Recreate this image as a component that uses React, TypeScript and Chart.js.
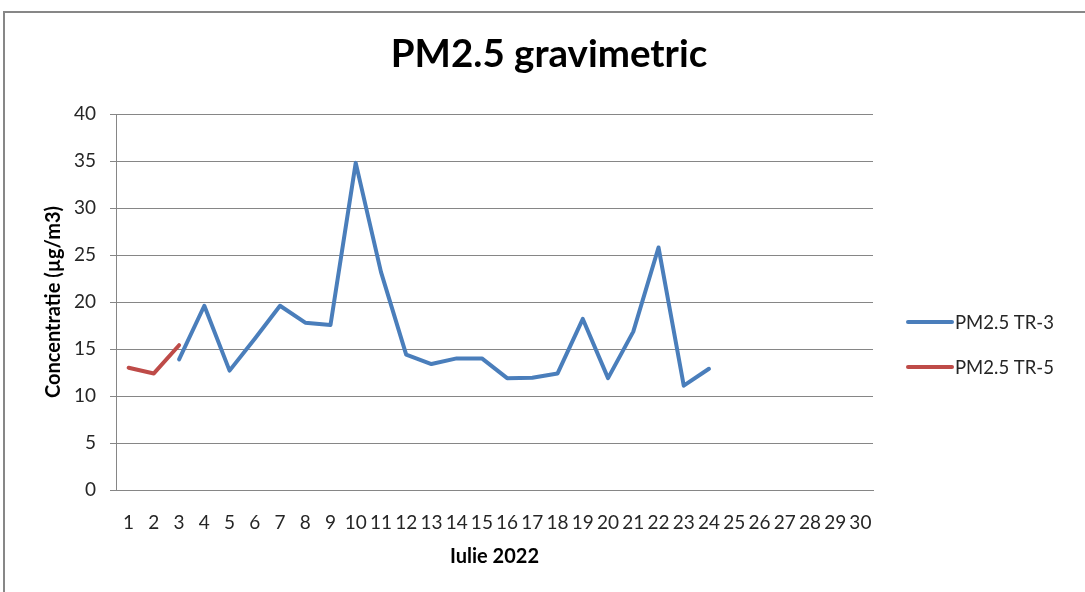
import React, { useEffect, useRef } from "react";
import { Chart, registerables } from "chart.js";

Chart.register(...registerables);

const days = ["1","2","3","4","5","6","7","8","9","10","11","12","13","14","15","16","17","18","19","20","21","22","23","24","25","26","27","28","29","30"];
const tr3 = [null, null, 13.9, 19.6, 12.7, 16.1, 19.6, 17.8, 17.55, 34.8, 23.2, 14.4, 13.4, 14.0, 14.0, 11.9, 11.95, 12.4, 18.2, 11.9, 16.85, 25.8, 11.1, 12.9, null, null, null, null, null, null];
const tr5 = [13.0, 12.4, 15.4, null, null, null, null, null, null, null, null, null, null, null, null, null, null, null, null, null, null, null, null, null, null, null, null, null, null, null];
const seriesNames = ["PM2.5 TR-3", "PM2.5 TR-5"];
const seriesColors = ["#4A7EBB", "#BE4B48"];
const yTicks = [0, 5, 10, 15, 20, 25, 30, 35, 40];
const chartTitle = "PM2.5 gravimetric";

const FONT = "Lato, 'Open Sans', sans-serif";

export default function App() {
  const ref = useRef<HTMLCanvasElement | null>(null);
  useEffect(() => {
    if (!ref.current) return;
    const framePlugin = {
      id: "frame",
      beforeDraw(chart: any) {
        const ctx = chart.ctx;
        ctx.save();
        ctx.fillStyle = "#ffffff";
        ctx.fillRect(0, 0, chart.width, chart.height);
        ctx.strokeStyle = "#878787";
        ctx.lineWidth = 2;
        ctx.strokeRect(4, 12, 1300, 800);
        ctx.restore();
      },
      afterDraw(chart: any) {
        const ctx = chart.ctx;
        ctx.save();
        ctx.fillStyle = "#000000";
        ctx.font = "bold 38.5px " + FONT;
        ctx.textAlign = "center";
        ctx.textBaseline = "alphabetic";
        ctx.fillText(chartTitle, 549, 67);
        const ys = [322, 367];
        seriesNames.forEach((n, i) => {
          ctx.strokeStyle = seriesColors[i];
          ctx.lineWidth = 4;
          ctx.lineCap = "round";
          ctx.beginPath();
          ctx.moveTo(908, ys[i]);
          ctx.lineTo(952, ys[i]);
          ctx.stroke();
          ctx.fillStyle = "#262626";
          ctx.font = "18.5px " + FONT;
          ctx.textBaseline = "middle";
          ctx.textAlign = "left";
          ctx.fillText(n, 955, ys[i] + 1);
        });
        ctx.restore();
      },
    };
    const chart = new Chart(ref.current, {
      type: "line",
      data: {
        labels: days,
        datasets: [
          { label: seriesNames[0], data: tr3, borderColor: seriesColors[0], backgroundColor: seriesColors[0], borderWidth: 4, pointRadius: 0, spanGaps: false, tension: 0, borderJoinStyle: "round", borderCapStyle: "round" },
          { label: seriesNames[1], data: tr5, borderColor: seriesColors[1], backgroundColor: seriesColors[1], borderWidth: 4, pointRadius: 0, spanGaps: false, tension: 0, borderJoinStyle: "round", borderCapStyle: "round" },
        ],
      },
      options: {
        responsive: false,
        animation: false,
        layout: { padding: { left: 8, right: 212, top: 114, bottom: 0 } },
        plugins: {
          legend: { display: false },
          tooltip: { enabled: false },
          title: { display: false },
        },
        scales: {
          x: {
            type: "category",
            offset: true,
            grid: { display: false, drawTicks: false },
            border: { display: true, color: "#868686", width: 1 },
            ticks: { autoSkip: false, maxRotation: 0, minRotation: 0, padding: 21, color: "#262626", font: { family: FONT, size: 19 } },
            title: { display: true, text: "Iulie 2022", color: "#000000", font: { family: FONT, size: 20, weight: "bold" }, padding: { top: 4, bottom: 23 } },
            afterFit(scale: any) { scale.height = 102; },
          },
          y: {
            min: 0,
            max: 40,
            afterBuildTicks(scale: any) { scale.ticks = yTicks.map((v) => ({ value: v })); },
            grid: { color: "#868686", lineWidth: 1, drawTicks: true, tickLength: 6 },
            border: { display: true, color: "#868686", width: 1 },
            ticks: { padding: 14, color: "#262626", font: { family: FONT, size: 19 } },
            title: { display: true, text: "Concentratie (µg/m3)", color: "#000000", font: { family: FONT, size: 20, weight: "bold" }, padding: { top: 34, bottom: 0 } },
            afterFit(scale: any) { scale.width = 108; },
          },
        },
      },
      plugins: [framePlugin],
    } as any);
    return () => chart.destroy();
  }, []);
  return (
    <div style={{ position: "fixed", left: 0, top: 0, width: 1085, height: 592 }}>
      <canvas ref={ref} width={1085} height={592} style={{ width: 1085, height: 592 }} />
    </div>
  );
}
